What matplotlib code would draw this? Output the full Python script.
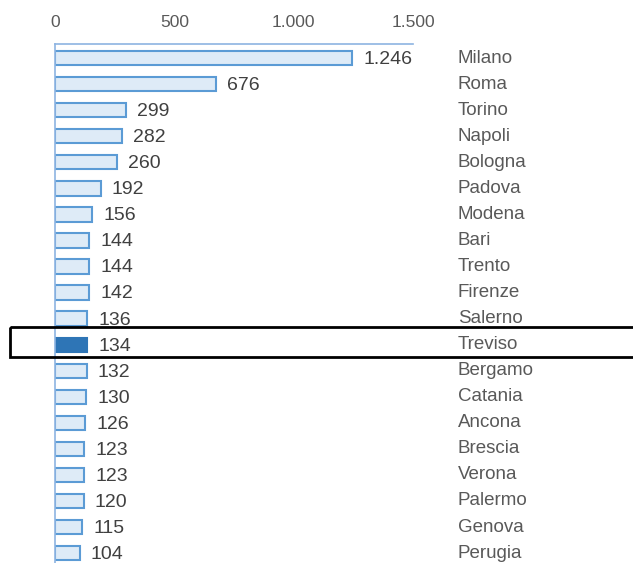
import matplotlib
matplotlib.use("Agg")
import matplotlib.pyplot as plt
import matplotlib.transforms as mtransforms
from matplotlib.patches import Rectangle
from matplotlib.ticker import FuncFormatter

cities = ["Milano", "Roma", "Torino", "Napoli", "Bologna", "Padova", "Modena",
          "Bari", "Trento", "Firenze", "Salerno", "Treviso", "Bergamo", "Catania",
          "Ancona", "Brescia", "Verona", "Palermo", "Genova", "Perugia"]
values = [1246, 676, 299, 282, 260, 192, 156, 144, 144, 142, 136, 134, 132,
          130, 126, 123, 123, 120, 115, 104]
highlight = "Treviso"

plt.rcParams["font.family"] = ["Liberation Sans", "DejaVu Sans"]

light_fill = "#DEEBF7"
edge_blue = "#5B9BD5"
dark_fill = "#2E75B6"
text_grey = "#404040"
label_grey = "#595959"


def fmt_it(v, pos=None):
    return f"{int(v):,}".replace(",", ".")


fig = plt.figure(figsize=(6.33, 5.63), dpi=100)
ax = fig.add_axes([55 / 633, 0, 358 / 633, 519 / 563])

pos = list(range(len(cities)))
colors = [dark_fill if c == highlight else light_fill for c in cities]
edges = [dark_fill if c == highlight else edge_blue for c in cities]
ax.barh(pos, values, height=0.55, color=colors, edgecolor=edges, linewidth=1.5)

for i, (c, v) in enumerate(zip(cities, values)):
    ax.annotate(fmt_it(v), (v, i), xytext=(8, -1), textcoords="offset points",
                va="center", ha="left", fontsize=14, color=text_grey)
    ax.text(1688, i, c, va="center", ha="left", fontsize=13.5, color=label_grey)

ax.set_xlim(0, 1500)
ax.set_ylim(19.38, -0.54)
ax.set_xticks([0, 500, 1000, 1500])
ax.xaxis.set_major_formatter(FuncFormatter(fmt_it))
ax.xaxis.tick_top()
ax.tick_params(axis="x", length=0, pad=10, labelsize=12.5, labelcolor=label_grey)
ax.set_yticks([])

for side in ["right", "bottom"]:
    ax.spines[side].set_visible(False)
for side in ["top", "left"]:
    ax.spines[side].set_color("#8DB4E2")
    ax.spines[side].set_linewidth(1.2)

# box around the highlighted row, running off the right edge of the figure
idx = cities.index(highlight)
trans = mtransforms.blended_transform_factory(fig.transFigure, ax.transData)
box = Rectangle((10 / 633, idx - 0.66), 1.0, 1.15,
                transform=trans, fill=False, edgecolor="black", linewidth=2,
                clip_on=False)
fig.patches.append(box)

fig.savefig("out.png", dpi=100)
